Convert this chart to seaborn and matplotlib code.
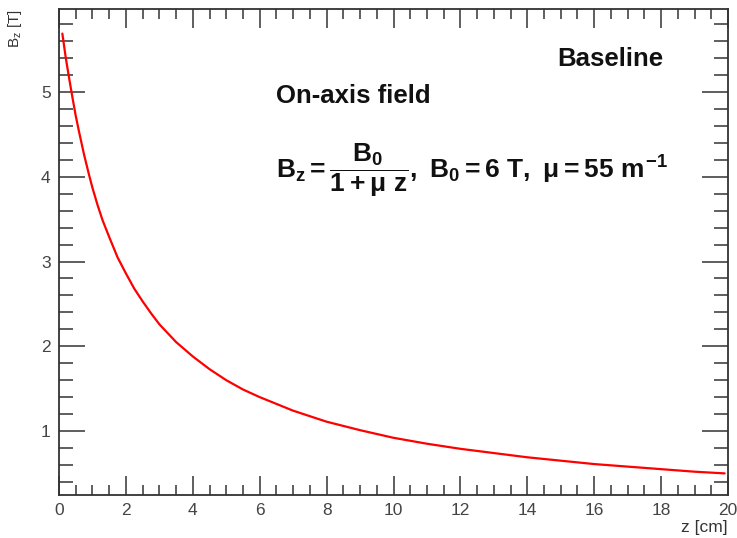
import matplotlib
matplotlib.use("Agg")
import matplotlib.pyplot as plt
from matplotlib.ticker import MultipleLocator
import seaborn as sns
import pandas as pd

# values
z_cm = [0.1, 0.15, 0.2, 0.3, 0.4, 0.5, 0.6, 0.75, 0.9, 1.0, 1.15, 1.3, 1.5, 1.75, 2.0, 2.25,
        2.5, 2.75, 3.0, 3.5, 4.0, 4.5, 5.0, 5.5, 6.0, 7.0, 8.0, 9.0, 10.0, 11.0, 12.0,
        13.0, 14.0, 15.0, 16.0, 17.0, 18.0, 19.0, 19.9]
bz_T = [5.69, 5.55, 5.41, 5.17, 4.94, 4.72, 4.53, 4.26, 4.02, 3.87, 3.67, 3.49, 3.29, 3.05,
        2.86, 2.68, 2.53, 2.39, 2.26, 2.05, 1.88, 1.73, 1.60, 1.49, 1.40, 1.24, 1.11, 1.01,
        0.92, 0.85, 0.79, 0.74, 0.69, 0.65, 0.61, 0.58, 0.55, 0.52, 0.50]
x_ticks = [0, 2, 4, 6, 8, 10, 12, 14, 16, 18, 20]
y_ticks = [1, 2, 3, 4, 5]

sns.set_theme(style="white")
plt.rcParams['font.family'] = ['Liberation Sans', 'DejaVu Sans']
plt.rcParams['mathtext.fontset'] = 'custom'
plt.rcParams['mathtext.rm'] = 'Liberation Sans:bold'
plt.rcParams['mathtext.it'] = 'Liberation Sans:bold'
plt.rcParams['mathtext.bf'] = 'Liberation Sans:bold'
plt.rcParams['mathtext.sf'] = 'Liberation Sans'

df = pd.DataFrame({"z": z_cm, "Bz": bz_T})

fig = plt.figure(figsize=(7.37, 5.38), dpi=100)
ax = fig.add_axes([59/737, 1-495/538, (728-59)/737, (495-9)/538])

sns.lineplot(data=df, x="z", y="Bz", ax=ax, color="#ff0000", linewidth=1.6)

ax.set_xlim(0, 20)
ax.set_ylim(0.245, 5.98)
ax.set_xticks(x_ticks)
ax.set_yticks(y_ticks)
ax.xaxis.set_minor_locator(MultipleLocator(0.5))
ax.yaxis.set_minor_locator(MultipleLocator(0.2))
ax.tick_params(which='major', direction='in', top=True, right=True, bottom=True, left=True,
               length=14, width=1.1, color='#333333', labelsize=12.5, labelcolor='#444444', pad=6)
ax.tick_params(which='minor', direction='in', top=True, right=True, bottom=True, left=True,
               length=7, width=1.1, color='#333333')
ax.tick_params(axis='y', which='major', length=19)
ax.tick_params(axis='y', which='minor', length=10)
for s in ax.spines.values():
    s.set_color('#333333')
    s.set_linewidth(1.3)
    s.set_visible(True)

ax.set_xlabel("z [cm]", loc='right', fontsize=12.5, color='#333333', labelpad=1)
ax.set_ylabel(r"$\mathsf{B_z}$ [T]", loc='top', fontsize=11, color='#333333')
ax.yaxis.set_label_coords(-(59-24)/669, 1.0)

fig.text(557/737, 1-59/538, "Baseline", fontsize=18.5, fontweight='bold', va='center', ha='left', color='#111111')
fig.text(276/737, 1-96/538, "On-axis field", fontsize=18.5, fontweight='bold', va='center', ha='left', color='#111111')
fig.text(276/737, 1-170/538, r"$B_z = \dfrac{B_0}{1+\mu\ z},\ B_0 = 6\ T,\ \mu = 55\ m^{-1}$",
         fontsize=19, va='center', ha='left', color='#111111')

fig.savefig("out.png", dpi=100)
